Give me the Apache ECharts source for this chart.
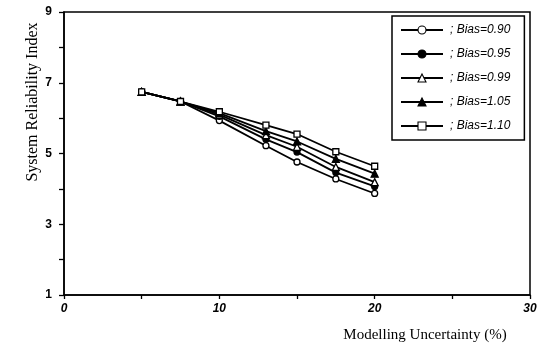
<!DOCTYPE html>
<html><head><meta charset="utf-8">
<script src="https://cdn.jsdelivr.net/npm/echarts@6/dist/echarts.min.js"></script>
<style>html,body{margin:0;padding:0;background:#fff}#c{width:548px;height:349px}</style>
</head><body><div id="c"></div>
<script>
const xValues = [5, 7.5, 10, 13, 15, 17.5, 20];
const bias090 = [6.74, 6.47, 5.93, 5.22, 4.76, 4.28, 3.87];
const bias095 = [6.74, 6.47, 6.05, 5.40, 5.04, 4.46, 4.07];
const bias099 = [6.74, 6.47, 6.10, 5.52, 5.19, 4.62, 4.19];
const bias105 = [6.74, 6.47, 6.14, 5.63, 5.34, 4.85, 4.43];
const bias110 = [6.74, 6.47, 6.18, 5.80, 5.55, 5.05, 4.64];
const seriesNames = ['; Bias=0.90', '; Bias=0.95', '; Bias=0.99', '; Bias=1.05', '; Bias=1.10'];
const xTickLabels = ['0', '10', '20', '30'];
const yTickLabels = ['1', '3', '5', '7', '9'];

const styles = [
  {symbol: 'circle', fill: '#fff'},
  {symbol: 'circle', fill: '#000'},
  {symbol: 'triangle', fill: '#fff'},
  {symbol: 'triangle', fill: '#000'},
  {symbol: 'rect', fill: '#fff'}
];
const allData = [bias090, bias095, bias099, bias105, bias110];

const series = allData.map((arr, i) => ({
  name: seriesNames[i],
  type: 'line',
  data: xValues.map((x, j) => [x, arr[j]]),
  symbol: styles[i].symbol,
  symbolSize: styles[i].symbol === 'triangle' ? 7 : 6,
  showAllSymbol: true,
  lineStyle: {color: '#000', width: 1.8},
  itemStyle: {color: styles[i].fill, borderColor: '#000', borderWidth: 1.3},
  z: 2 + i
}));

const chart = echarts.init(document.getElementById('c'), null, {renderer: 'canvas'});
chart.setOption({
  animation: false,
  backgroundColor: '#fff',
  grid: {left: 64, right: 18, top: 12, bottom: 54, show: true, borderColor: '#000', borderWidth: 1.5, backgroundColor: 'transparent'},
  xAxis: {
    type: 'value', min: 0, max: 30, interval: 5,
    axisLine: {lineStyle: {color: '#000', width: 1.5}},
    axisTick: {show: true, inside: false, length: 4, lineStyle: {color: '#000', width: 1.3}},
    splitLine: {show: false},
    axisLabel: {
      color: '#000', fontFamily: 'Liberation Sans', fontWeight: 'bold', fontStyle: 'italic', fontSize: 12, margin: 8,
      formatter: v => { const s = String(v); return xTickLabels.indexOf(s) >= 0 ? s : ''; }
    }
  },
  yAxis: {
    type: 'value', min: 1, max: 9, interval: 1,
    axisLine: {lineStyle: {color: '#000', width: 1.5}},
    axisTick: {show: true, inside: false, length: 5, lineStyle: {color: '#000', width: 1.3}},
    splitLine: {show: false},
    axisLabel: {
      color: '#000', fontFamily: 'Liberation Sans', fontWeight: 'bold', fontSize: 12, margin: 12,
      formatter: v => { const s = String(v); return yTickLabels.indexOf(s) >= 0 ? s : ''; }
    }
  },
  legend: {
    orient: 'vertical', left: 392, top: 16,
    data: seriesNames,
    itemWidth: 42, itemHeight: 10, itemGap: 12,
    padding: [8, 14, 8, 8],
    borderColor: '#000', borderWidth: 1.5,
    itemStyle: {borderWidth: 1.1},
    textStyle: {color: '#000', fontFamily: 'Liberation Sans', fontStyle: 'italic', fontSize: 12, padding: [0, 0, 0, 2]}
  },
  graphic: [
    {type: 'text', x: 33, y: 102, rotation: Math.PI / 2,
     style: {text: 'System Reliability Index', fill: '#000', font: '16px "Liberation Serif"', textAlign: 'center', textVerticalAlign: 'middle'}},
    {type: 'text', x: 425, y: 335,
     style: {text: 'Modelling Uncertainty (%)', fill: '#000', font: '15px "Liberation Serif"', textAlign: 'center', textVerticalAlign: 'middle'}}
  ],
  series: series
});
</script></body></html>
